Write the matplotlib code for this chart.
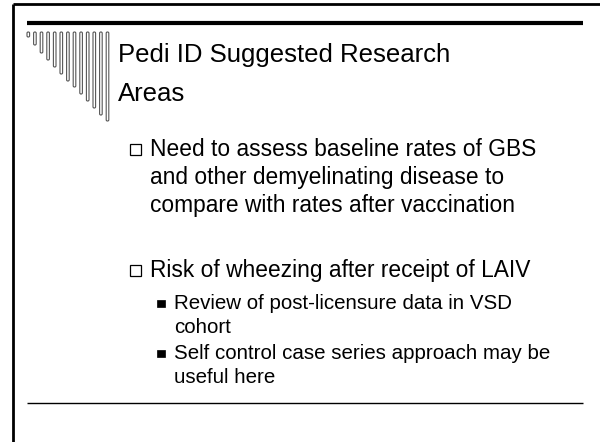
import matplotlib
matplotlib.use("Agg")
import matplotlib.pyplot as plt
from matplotlib.patches import FancyBboxPatch, Rectangle

title_lines = ["Pedi ID Suggested Research", "Areas"]
bullet1_lines = ["Need to assess baseline rates of GBS",
                 "and other demyelinating disease to",
                 "compare with rates after vaccination"]
bullet2_lines = ["Risk of wheezing after receipt of LAIV"]
sub1_lines = ["Review of post-licensure data in VSD", "cohort"]
sub2_lines = ["Self control case series approach may be", "useful here"]

# decorative comb bars (bottom ends, px)
comb_bottoms = [37, 45, 53, 60, 67, 74, 81, 87, 94, 101, 108, 115, 121]

W, H = 600, 442
fig = plt.figure(figsize=(6, 4.42), dpi=100)
ax = fig.add_axes([0, 0, 1, 1])
ax.set_xlim(0, W)
ax.set_ylim(H, 0)
ax.axis("off")

# frame
ax.plot([13, 13], [4, H], color="black", lw=2.0, solid_capstyle="butt")
ax.plot([13, W], [4, 4], color="black", lw=2.0, solid_capstyle="butt")
ax.plot([27, 583], [23, 23], color="black", lw=3.0, solid_capstyle="butt")
ax.plot([27, 583], [403, 403], color="black", lw=1.0, solid_capstyle="butt")

# comb
x0, dx, top = 27.0, 6.6, 32
for i, b in enumerate(comb_bottoms):
    p = FancyBboxPatch((x0 + i * dx, top), 2.6, b - top,
                       boxstyle="round,pad=0,rounding_size=1.2",
                       facecolor="white", edgecolor="#555555", lw=0.8)
    ax.add_patch(p)

fam = ["Liberation Sans", "DejaVu Sans"]
title_fs = 18.5
body_fs = 16.4
sub_fs = 14.8

for i, t in enumerate(title_lines):
    ax.text(118, 62 + i * 39, t, fontsize=title_fs, family=fam, va="baseline", ha="left")

def block(lines, xt, y0, dy, fs):
    for i, t in enumerate(lines):
        ax.text(xt, y0 + i * dy, t, fontsize=fs, family=fam, va="baseline", ha="left")

def hollow_box(x, base):
    ax.add_patch(Rectangle((x, base - 12), 11, 11, facecolor="white",
                           edgecolor="black", lw=0.9))

def solid_box(x, base):
    ax.add_patch(Rectangle((x, base - 9.5), 7.5, 7.5, facecolor="black",
                           edgecolor="black", lw=0.5))

hollow_box(130, 156)
block(bullet1_lines, 150, 156, 28, body_fs)
hollow_box(130, 277)
block(bullet2_lines, 150, 277, 28, body_fs)
solid_box(157, 309)
block(sub1_lines, 174, 309, 24, sub_fs)
solid_box(157, 359)
block(sub2_lines, 174, 359, 24, sub_fs)

fig.savefig("out.png", dpi=100)
